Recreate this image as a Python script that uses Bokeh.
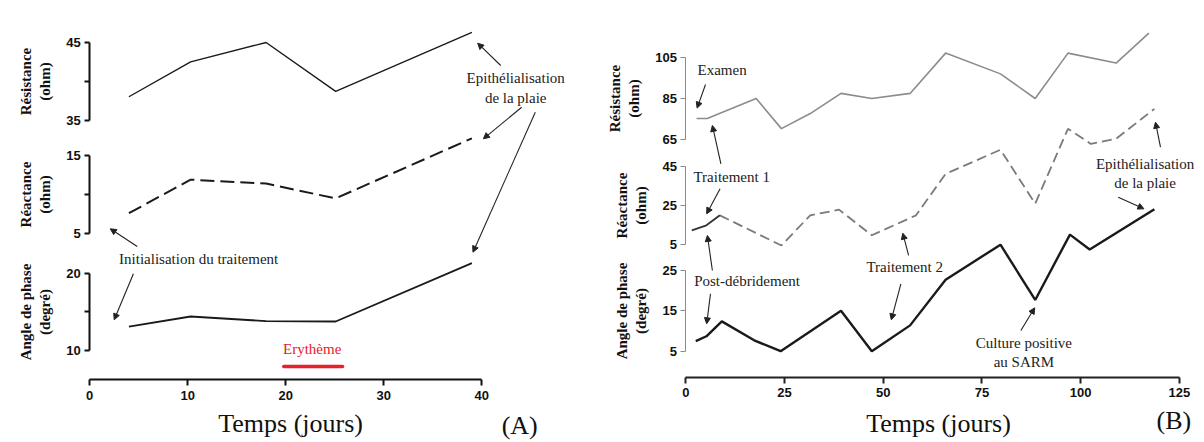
from bokeh.plotting import figure
from bokeh.models import Range1d, LinearAxis, FixedTicker, Label, Arrow, NormalHead
from bokeh.layouts import row
from bokeh.embed import file_html
from bokeh.resources import INLINE

# ---------------- data : panel (A) ----------------
days_a = [4.0, 10.3, 18.0, 25.1, 39.0]
resistance_a = [38.0, 42.5, 45.0, 38.7, 46.3]
reactance_a = [7.6, 11.9, 11.4, 9.5, 17.2]
phase_a = [13.1, 14.4, 13.8, 13.75, 21.3]
erythema_days_a = [19.8, 25.8]
x_ticks_a = [0, 10, 20, 30, 40]
res_ticks_a = [35, 40, 45]
reac_ticks_a = [5, 10, 15]
phase_ticks_a = [10, 15, 20]

# ---------------- data : panel (B) ----------------
res_days_b = [2.7, 5.4, 17.8, 24.2, 31.5, 39.3, 47.1, 56.8, 65.8, 79.7, 88.5, 96.8, 109.0, 117.3]
resistance_b = [75.2, 75.2, 85.0, 70.2, 77.6, 87.5, 85.0, 87.5, 107.3, 97.1, 85.0, 107.3, 102.4, 117.1]
reac_days_b = [1.5, 5.2, 8.6, 24.2, 31.5, 38.8, 47.1, 58.3, 65.8, 79.7, 88.5, 96.8, 102.6, 109.0, 118.7]
reactance_b = [12.2, 14.8, 19.9, 4.5, 19.9, 22.8, 9.7, 19.9, 41.1, 53.4, 25.9, 64.1, 56.4, 59.0, 74.3]
phase_days_b = [2.5, 5.2, 9.1, 17.3, 24.0, 39.3, 47.1, 56.8, 65.8, 79.7, 88.5, 97.3, 102.3, 118.7]
phase_b = [7.5, 8.7, 12.4, 7.7, 5.0, 15.0, 5.0, 11.4, 22.7, 31.4, 17.7, 33.9, 30.2, 40.2]
x_ticks_b = [0, 25, 50, 75, 100, 125]
res_ticks_b = [65, 85, 105]
reac_ticks_b = [5, 25, 45]
phase_ticks_b = [5, 15, 25]
n_solid_reac_b = 3

SERIF = "Liberation Serif"
SANS = "Liberation Sans"
H = 442


def band(v_hi, y_hi, v_lo, y_lo, frame_h=H):
    """range whose values v_hi / v_lo sit y_hi / y_lo px below the frame top"""
    ppu = (y_lo - y_hi) / (v_hi - v_lo)
    return Range1d(start=v_lo - (frame_h - y_lo) / ppu, end=v_hi + y_hi / ppu)


def y_axis(name, bounds, ticks, label, color, width, overrides=None, standoff=10):
    ax = LinearAxis(y_range_name=name, fixed_location=0, bounds=bounds,
                    ticker=FixedTicker(ticks=ticks, minor_ticks=[]), axis_label=label,
                    major_label_overrides=overrides or {})
    ax.axis_line_color = color
    ax.axis_line_width = width
    ax.major_tick_line_color = color
    ax.major_tick_line_width = width
    ax.major_tick_in = 0
    ax.major_tick_out = 5
    ax.minor_tick_line_color = None
    ax.major_label_text_font = SANS
    ax.major_label_text_font_style = "bold"
    ax.major_label_text_font_size = "13px"
    ax.major_label_text_color = "#111111"
    ax.major_label_standoff = 4
    ax.axis_label_text_font = SERIF
    ax.axis_label_text_font_style = "bold"
    ax.axis_label_text_font_size = "15px"
    ax.axis_label_text_color = "#111111"
    ax.axis_label_standoff = standoff
    return ax


def style_x(p, ticks, bounds, loc, color, width):
    ax = p.xaxis[0]
    ax.fixed_location = loc
    ax.ticker = FixedTicker(ticks=ticks, minor_ticks=[])
    ax.bounds = bounds
    ax.axis_line_color = color
    ax.axis_line_width = width
    ax.major_tick_line_color = color
    ax.major_tick_line_width = width
    ax.major_tick_in = 0
    ax.major_tick_out = 6
    ax.minor_tick_line_color = None
    ax.major_label_text_font = SANS
    ax.major_label_text_font_style = "bold"
    ax.major_label_text_font_size = "13px"
    ax.major_label_text_color = "#111111"
    ax.major_label_standoff = 5


def note(p, x, y, text, rng="default", size="15px", color="#222222"):
    p.add_layout(Label(x=x, y=y, text=text, y_range_name=rng, text_align="center",
                       text_baseline="middle", text_font=SERIF, text_font_size=size,
                       text_color=color))


def arrow(p, x0, y0, x1, y1, rng="default"):
    p.add_layout(Arrow(x_start=x0, y_start=y0, x_end=x1, y_end=y1, y_range_name=rng,
                       line_color="#222222", line_width=1.1,
                       end=NormalHead(size=6, fill_color="#222222", line_color="#222222",
                                      line_width=1)))


def base_fig(width, zero_px, x_per_px, phase_rng):
    p = figure(width=width, height=H, output_backend="svg", toolbar_location=None,
               x_range=Range1d(-zero_px / x_per_px, (width - zero_px) / x_per_px),
               y_range=phase_rng, y_axis_location=None,
               min_border_left=0, min_border_right=0, min_border_top=0, min_border_bottom=0)
    p.grid.visible = False
    p.outline_line_color = None
    p.background_fill_color = "white"
    p.border_fill_color = "white"
    return p


# ======================= panel (A) =======================
pA = base_fig(600, 89.2, 9.8, band(20, 272.7, 10, 350))
pA.extra_y_ranges = {"res": band(45, 42, 35, 119.5), "reac": band(15, 155, 5, 233)}
black = "#111111"
pA.add_layout(y_axis("res", (35, 45), res_ticks_a, "Résistance\n(ohm)", black, 2, {40: ""}), "left")
pA.add_layout(y_axis("reac", (5, 15), reac_ticks_a, "Réactance\n(ohm)", black, 2, {10: ""}), "left")
pA.add_layout(y_axis("default", (10, 20), phase_ticks_a, "Angle de phase\n(degré)", black, 2, {15: ""}), "left")
style_x(pA, x_ticks_a, (0, 40), 6.21, black, 2)

pA.line(days_a, resistance_a, y_range_name="res", line_color="#1a1a1a", line_width=1.4)
pA.line(days_a, reactance_a, y_range_name="reac", line_color="#1a1a1a", line_width=2.0,
        line_dash="14 6")
pA.line(days_a, phase_a, line_color="#1a1a1a", line_width=1.8)
pA.line(erythema_days_a, [7.93, 7.93], line_color="#e8202a", line_width=3.5, line_cap="round")

note(pA, 43.47, 39.13, "Epithélialisation\nde la plaie", rng="res")
arrow(pA, 41.94, 42.03, 39.59, 44.91, rng="res")
arrow(pA, 44.08, 21.19, 40.17, 17.14, rng="reac")
arrow(pA, 45.47, 40.83, 39.11, 22.72)
note(pA, 11.12, 1.67, "Initialisation du traitement", rng="reac")
arrow(pA, 4.85, 3.33, 2.10, 5.60, rng="reac")
arrow(pA, 4.46, 19.92, 2.50, 13.97)
note(pA, 22.70, 10.13, "Erythème", color="#e8202a")
note(pA, 20.5, 0.6, "Temps (jours)", size="26px", color="#111111")
note(pA, 43.88, 0.30, "(A)", size="26px", color="#111111")

# ======================= panel (B) =======================
pB = base_fig(604, 85.4, 3.947, band(25, 270, 5, 350.7))
pB.extra_y_ranges = {"res": band(105, 57.3, 65, 138.7), "reac": band(45, 165.7, 5, 244)}
grey = "#8a8a8a"
pB.add_layout(y_axis("res", (65, 105), res_ticks_b, "Résistance\n(ohm)", grey, 1, standoff=10), "left")
pB.add_layout(y_axis("reac", (5, 45), reac_ticks_b, "Réactance\n(ohm)", grey, 1, standoff=10), "left")
pB.add_layout(y_axis("default", (5, 25), phase_ticks_b, "Angle de phase\n(degré)", grey, 1, standoff=10), "left")
style_x(pB, x_ticks_b, (0, 125), -1.44, "#222222", 2)

pB.line(res_days_b, resistance_b, y_range_name="res", line_color="#8c8c8c", line_width=1.6)
pB.line(reac_days_b[n_solid_reac_b - 1:], reactance_b[n_solid_reac_b - 1:], y_range_name="reac",
        line_color="#7a7a7a", line_width=1.8, line_dash="10 5")
pB.line(reac_days_b[:n_solid_reac_b], reactance_b[:n_solid_reac_b], y_range_name="reac",
        line_color="#333333", line_width=1.8)
pB.line(phase_days_b, phase_b, line_color="#1a1a1a", line_width=2.4)

note(pB, 9.17, 99.10, "Examen", rng="res")
arrow(pB, 4.97, 91.88, 2.84, 80.28, rng="res")
note(pB, 11.60, 39.38, "Traitement 1", rng="reac")
arrow(pB, 8.87, 52.93, 6.71, 71.75, rng="res")
arrow(pB, 8.66, 33.46, 5.27, 20.69, rng="reac")
note(pB, 15.5, 22.52, "Post-débridement")
arrow(pB, 6.71, -8.27, 5.45, 9.61, rng="reac")
arrow(pB, 6.23, 19.23, 5.27, 11.79)
note(pB, 55.43, 25.82, "Traitement 2")
arrow(pB, 56.42, -0.61, 54.95, 10.78, rng="reac")
arrow(pB, 54.47, 21.70, 52.04, 12.78)
note(pB, 116.34, 41.37, "Epithélialisation\nde la plaie", rng="reac")
arrow(pB, 120.24, 54.70, 118.97, 67.47, rng="reac")
arrow(pB, 109.53, 43.17, 116.04, 40.29)
note(pB, 85.63, 4.75, "Culture positive\nau SARM")
arrow(pB, 84.87, 10.13, 88.37, 15.75)
note(pB, 64.0, -12.9, "Temps (jours)", size="26px", color="#111111")
note(pB, 123.64, -12.18, "(B)", size="26px", color="#111111")

layout = row(pA, pB)
open("out.html", "w").write(file_html(layout, INLINE, title="Bioimpédance"))
